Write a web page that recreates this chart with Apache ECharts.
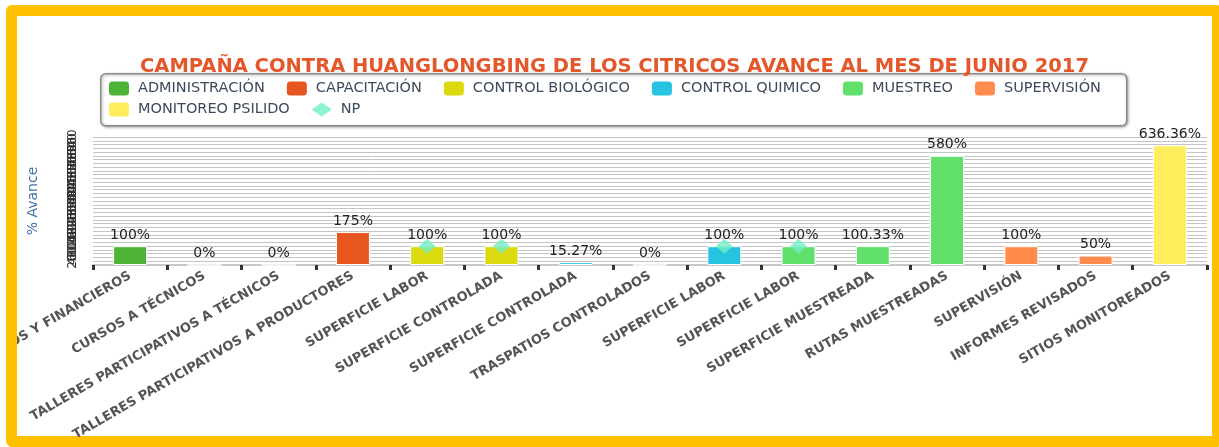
<!DOCTYPE html>
<html>
<head>
<meta charset="utf-8">
<script src="https://cdn.jsdelivr.net/npm/echarts@6/dist/echarts.min.js"></script>
<style>
  html, body { margin: 0; padding: 0; width: 1219px; height: 447px; overflow: hidden; background: #fff; }
  .marco { position: absolute; left: 6px; top: 5px; width: 1195px; height: 420px; border: 11px solid #FFC000; border-radius: 6px; }
  .com-chart { position: absolute; left: 17px; top: 17px; width: 1195px; height: 420px; }
</style>
</head>
<body>
<div class="marco"></div>
<div class="com-chart" id="avance_ref"></div>
<script>
// categorias del eje x
const categorias = [
  'INFORMES ADMINISTRATIVOS Y FINANCIEROS',
  'CURSOS A TÉCNICOS',
  'TALLERES PARTICIPATIVOS A TÉCNICOS',
  'TALLERES PARTICIPATIVOS A PRODUCTORES',
  'SUPERFICIE LABOR',
  'SUPERFICIE CONTROLADA',
  'SUPERFICIE CONTROLADA',
  'TRASPATIOS CONTROLADOS',
  'SUPERFICIE LABOR',
  'SUPERFICIE LABOR',
  'SUPERFICIE MUESTREADA',
  'RUTAS MUESTREADAS',
  'SUPERVISIÓN',
  'INFORMES REVISADOS',
  'SITIOS MONITOREADOS'
]
// % de avance por categoria
const avance = [100, 0, 0, 175, 100, 100, 15.27, 0, 100, 100, 100.33, 580, 100, 50, 636.36]
// componente al que pertenece cada barra
const componente = [
  'ADMINISTRACIÓN', 'CAPACITACIÓN', 'CAPACITACIÓN', 'CAPACITACIÓN',
  'CONTROL BIOLÓGICO', 'CONTROL BIOLÓGICO', 'CONTROL QUIMICO', 'CONTROL QUIMICO',
  'CONTROL QUIMICO', 'MUESTREO', 'MUESTREO', 'MUESTREO',
  'SUPERVISIÓN', 'SUPERVISIÓN', 'MONITOREO PSILIDO'
]
const componentes = ['ADMINISTRACIÓN', 'CAPACITACIÓN', 'CONTROL BIOLÓGICO', 'CONTROL QUIMICO', 'MUESTREO', 'SUPERVISIÓN', 'MONITOREO PSILIDO']
const colores = ['#4DB336', '#E8561F', '#DADA0E', '#26C4E0', '#62E06C', '#FF8C4D', '#FFED5E']
// puntos NP
const np = ['-', '-', '-', '-', 100, 100, '-', '-', 100, 100, '-', '-', '-', '-', '-']
// eje y
const yMin = 0
const yMax = 680
const yIntervalo = 20

const chartInstance = echarts.init(document.getElementById('avance_ref'))

const barras = componentes.map((nombre, i) => ({
  name: nombre,
  type: 'bar',
  barWidth: 34,
  barGap: '-100%',
  itemStyle: { color: colores[i], borderColor: '#fff', borderWidth: 1 },
  label: {
    show: true,
    position: 'top',
    distance: 4,
    formatter: (p) => p.value + '%',
    color: '#222',
    fontFamily: 'DejaVu Sans',
    fontSize: 14
  },
  data: avance.map((v, k) => (componente[k] === nombre ? v : '-'))
}))

const leyendaTexto = { color: '#3D4A5C', fontSize: 14.5, fontFamily: 'DejaVu Sans', padding: [0, 0, 0, 4] }

const option = {
  animation: false,
  textStyle: { fontFamily: 'DejaVu Sans' },
  title: {
    text: 'CAMPAÑA CONTRA HUANGLONGBING DE LOS CITRICOS AVANCE AL MES DE JUNIO 2017',
    left: 'center',
    top: 35,
    textStyle: { color: '#E4572B', fontSize: 19.5, fontWeight: 'bold', fontFamily: 'DejaVu Sans' }
  },
  graphic: [
    {
      type: 'rect',
      left: 83,
      top: 56,
      shape: { width: 1026, height: 52, r: 5 },
      style: { fill: '#fff', stroke: '#8a8a8a', lineWidth: 1.5, shadowBlur: 3, shadowColor: 'rgba(0,0,0,0.3)', shadowOffsetX: 1, shadowOffsetY: 1 },
      z: -1
    }
  ],
  legend: [
    {
      data: componentes.slice(0, 6),
      left: 92,
      top: 64,
      padding: 0,
      itemWidth: 20,
      itemHeight: 14,
      itemGap: 22,
      itemStyle: { borderRadius: 3, borderWidth: 0 },
      textStyle: leyendaTexto
    },
    {
      data: [componentes[6], 'NP'],
      left: 92,
      top: 85,
      padding: 0,
      itemWidth: 20,
      itemHeight: 14,
      itemGap: 22,
      itemStyle: { borderRadius: 3, borderWidth: 0 },
      textStyle: leyendaTexto
    }
  ],
  grid: { left: 76, right: 5, top: 120, height: 128, containLabel: false, outerBoundsMode: 'none' },
  xAxis: {
    type: 'category',
    data: categorias,
    axisLine: { lineStyle: { color: '#C8C8C8', width: 2 } },
    axisTick: { show: true, length: 5, lineStyle: { color: '#333', width: 3 } },
    axisLabel: {
      interval: 0,
      rotate: 30,
      margin: 10,
      color: '#555',
      fontWeight: 'bold',
      fontSize: 13,
      fontFamily: 'DejaVu Sans'
    }
  },
  yAxis: {
    type: 'value',
    min: yMin,
    max: yMax,
    interval: yIntervalo,
    name: '% Avance',
    nameLocation: 'middle',
    nameGap: 53,
    nameTextStyle: { color: '#4572A7', fontSize: 14, fontFamily: 'DejaVu Sans' },
    axisLine: { show: false },
    axisTick: { show: false },
    axisLabel: { rotate: 90, fontSize: 12, color: '#333', margin: 14 },
    splitLine: { lineStyle: { color: '#C4C4C4', width: 1 } }
  },
  series: barras.concat([
    {
      name: 'NP',
      type: 'scatter',
      symbol: 'diamond',
      symbolSize: [17, 15],
      itemStyle: { color: '#6FEFC3' },
      z: 5,
      data: np
    }
  ])
}
chartInstance.setOption(option)
</script>
</body>
</html>
